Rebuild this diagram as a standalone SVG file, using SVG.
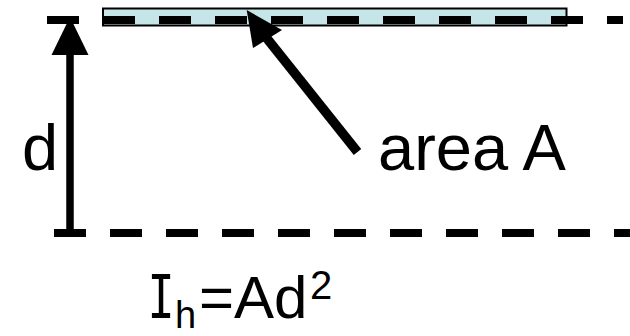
<svg xmlns="http://www.w3.org/2000/svg" width="630" height="336" viewBox="0 0 630 336">
<style>
.dash{stroke:#000;stroke-width:8;stroke-dasharray:32 24;fill:none}
.lbl{font-family:"Liberation Sans",Arial,sans-serif;fill:#000}
</style>
<rect width="630" height="336" fill="#fff"/>
<g id="plate">
<rect x="103" y="8.5" width="463.5" height="17" fill="#C5E5E8" stroke="#000" stroke-width="2"/>
</g>
<g id="connectors">
<line class="dash" x1="47" y1="20" x2="623" y2="20"/>
<line class="dash" x1="54" y1="233" x2="640" y2="233"/>
<line x1="70" y1="50" x2="70" y2="230" stroke="#000" stroke-width="7.5"/>
<polygon points="70,17 51.5,55 88.5,55" fill="#000"/>
<line x1="357.5" y1="152" x2="265" y2="36" stroke="#000" stroke-width="9.5"/>
<polygon points="246.7,10 253,48 282,30" fill="#000"/>
</g>
<g id="labels">
<text class="lbl" x="22" y="170" font-size="65">d</text>
<text class="lbl" x="378" y="170" font-size="65">area A</text>
<text font-family="DejaVu Sans Mono,monospace" font-size="60" transform="translate(152,318) scale(0.75,1)" x="-5.9" y="0" fill="#000">I</text>
<text class="lbl" x="175" y="327.5" font-size="38">h</text>
<text class="lbl" x="199" y="318" font-size="60">=Ad</text>
<text class="lbl" x="310" y="299" font-size="40">2</text>
</g>
</svg>
